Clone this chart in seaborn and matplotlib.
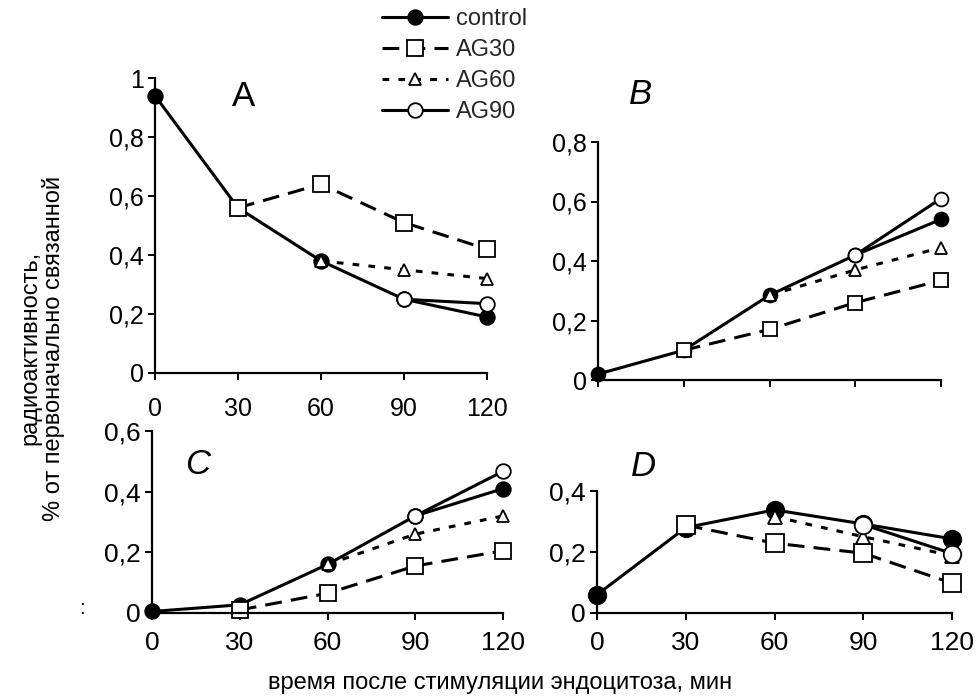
import matplotlib
matplotlib.use('Agg')
import matplotlib.pyplot as plt
import matplotlib.ticker as mticker
import numpy as np
import seaborn as sns

nan = np.nan

minutes = [0, 30, 60, 90, 120]
series = ['control', 'AG30', 'AG60', 'AG90']

# panel A
a_control = [0.94, 0.56, 0.38, 0.25, 0.19]
a_ag30 = [nan, 0.56, 0.64, 0.51, 0.42]
a_ag60 = [nan, nan, 0.38, 0.35, 0.32]
a_ag90 = [nan, nan, nan, 0.25, 0.235]

# panel B
b_control = [0.02, 0.10, 0.285, 0.42, 0.54]
b_ag30 = [nan, 0.10, 0.17, 0.26, 0.335]
b_ag60 = [nan, nan, 0.285, 0.37, 0.445]
b_ag90 = [nan, nan, nan, 0.42, 0.61]

# panel C
c_control = [0.005, 0.027, 0.16, 0.32, 0.41]
c_ag30 = [nan, 0.01, 0.065, 0.155, 0.205]
c_ag60 = [nan, nan, 0.16, 0.26, 0.32]
c_ag90 = [nan, nan, nan, 0.32, 0.467]

# panel D
d_control = [0.06, 0.28, 0.338, 0.292, 0.243]
d_ag30 = [nan, 0.288, 0.229, 0.196, 0.098]
d_ag60 = [nan, nan, 0.316, 0.25, 0.188]
d_ag90 = [nan, nan, nan, 0.29, 0.195]

x_label = 'время после стимуляции эндоцитоза, мин'
y_label = 'радиоактивность,\n% от первоначально связанной'

sns.set_theme(style='ticks')
plt.rcParams['font.family'] = ['Liberation Sans', 'DejaVu Sans']
narrow = ['Liberation Sans Narrow', 'Liberation Sans', 'DejaVu Sans']

W, H = 977, 696
fig = plt.figure(figsize=(W / 100, H / 100), dpi=100)


def rect(left, right, top, bottom):
    return [left / W, 1 - bottom / H, (right - left) / W, (bottom - top) / H]


styles = {
    'control': dict(marker='o', ms=10.5, mfc='black', linestyle='-'),
    'AG30': dict(marker='s', ms=11, mfc='white', linestyle=(0, (5.5, 3))),
    'AG60': dict(marker='^', ms=8.5, mfc='white', linestyle=(0, (2.2, 3))),
    'AG90': dict(marker='o', ms=10.5, mfc='white', linestyle='-'),
}

panels = [
    dict(pos=rect(155, 487, 78, 373), ylim=1.0, yticks=[0, 0.2, 0.4, 0.6, 0.8, 1],
         data=[a_control, a_ag30, a_ag60, a_ag90], letter='A', lx=243, ly=97,
         italic=False, xlabels=True, pad=12, narrow=False, scale=1.0),
    dict(pos=rect(598, 941, 142, 380), ylim=0.8, yticks=[0, 0.2, 0.4, 0.6, 0.8],
         data=[b_control, b_ag30, b_ag60, b_ag90], letter='B', lx=640, ly=94,
         italic=True, xlabels=False, pad=12, narrow=False, scale=0.95),
    dict(pos=rect(152, 503, 431, 613), ylim=0.6, yticks=[0, 0.2, 0.4, 0.6],
         data=[c_control, c_ag30, c_ag60, c_ag90], letter='C', lx=198, ly=465,
         italic=True, xlabels=True, pad=8, narrow=True, scale=1.0),
    dict(pos=rect(597, 952, 491, 613), ylim=0.4, yticks=[0, 0.2, 0.4],
         data=[d_control, d_ag30, d_ag60, d_ag90], letter='D', lx=643, ly=467,
         italic=True, xlabels=True, pad=8, narrow=True, scale=1.2),
]

comma = mticker.FuncFormatter(lambda v, p: ('%g' % round(v, 2)).replace('.', ','))

axes = []
for p in panels:
    ax = fig.add_axes(p['pos'])
    for name, vals in zip(series, p['data']):
        st = styles[name]
        sns.lineplot(x=minutes, y=vals, ax=ax, color='black', lw=2.2,
                     linestyle=st['linestyle'], marker=st['marker'],
                     markersize=st['ms'] * p['scale'], markerfacecolor=st['mfc'],
                     markeredgecolor='black', markeredgewidth=1.3,
                     label=name, errorbar=None, clip_on=False)
    ax.set_xlim(0, 120)
    ax.set_ylim(0, p['ylim'])
    ax.set_xticks(minutes)
    ax.set_yticks(p['yticks'])
    ax.yaxis.set_major_formatter(comma)
    ax.set_xlabel('')
    ax.set_ylabel('')
    sns.despine(ax=ax)
    for s in ['left', 'bottom']:
        ax.spines[s].set_color('black')
        ax.spines[s].set_linewidth(1.6)
    ax.tick_params(axis='both', colors='black', width=1.4, length=5,
                   direction='out', labelsize=18)
    ax.tick_params(axis='y', pad=3)
    ax.tick_params(axis='x', pad=p['pad'], labelbottom=p['xlabels'])
    if p['narrow']:
        for t in ax.get_xticklabels() + ax.get_yticklabels():
            t.set_family(narrow)
            t.set_fontsize(19)
    ax.set_facecolor('white')
    ax.legend_.remove()
    fig.text(p['lx'] / W, 1 - p['ly'] / H, p['letter'], fontsize=25,
             style='italic' if p['italic'] else 'normal',
             ha='center', va='center', color='black')
    axes.append(ax)

handles, labels = axes[0].get_legend_handles_labels()
fig.legend(handles, labels, loc='upper left', bbox_to_anchor=(380 / W, 1 - 6 / H),
           frameon=False, fontsize=17, handlelength=2.8, handletextpad=0.3,
           labelspacing=0.38, borderpad=0.1, borderaxespad=0)

fig.text(500 / W, 1 - 683 / H, x_label, fontsize=17, family=narrow,
         ha='center', va='center', color='black')
fig.text(42 / W, 1 - 348 / H, y_label, fontsize=17, family=narrow,
         rotation=90, ha='center', va='center', multialignment='center',
         linespacing=1.05, color='black')
fig.text(82 / W, 1 - 608 / H, ':', fontsize=15, ha='center', va='center',
         color='black')

fig.savefig('out.png', dpi=100, facecolor='white')
